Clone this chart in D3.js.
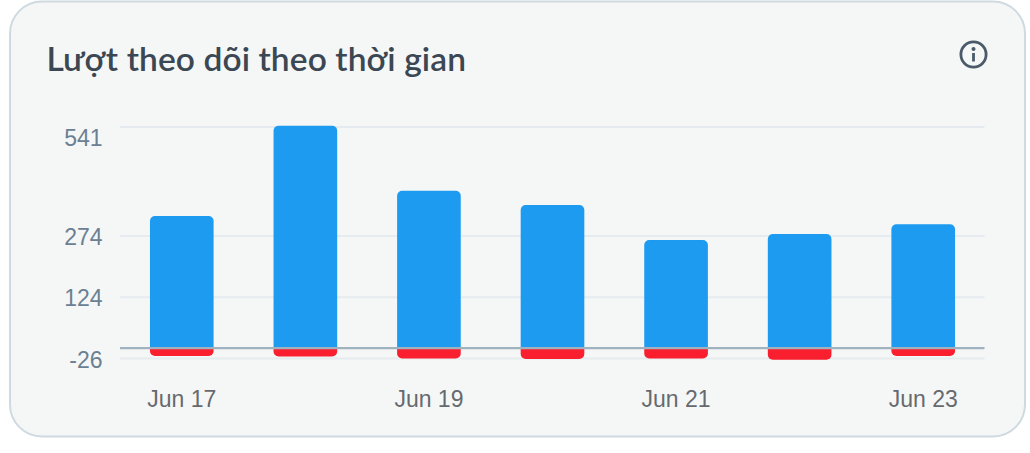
<!DOCTYPE html>
<html>
<head>
<meta charset="utf-8">
<script src="https://cdn.jsdelivr.net/npm/d3@7/dist/d3.min.js"></script>
<style>
  html, body { margin: 0; padding: 0; background: #fff; }
  svg { display: block; }
</style>
</head>
<body>
<svg id="chart" width="1030" height="453"></svg>
<script>
// Daily follower gains and losses
const days = ["Jun 17", "Jun 18", "Jun 19", "Jun 20", "Jun 21", "Jun 22", "Jun 23"];
const gained = [323, 544, 385, 350, 264, 279, 303];
const lost = [-20, -21, -26, -27, -26, -29, -20];
const yTicks = [541, 274, 124, -26];
const xLabels = ["Jun 17", "Jun 19", "Jun 21", "Jun 23"];
const titleText = "Lượt theo dõi theo thời gian";

const svg = d3.select("#chart");

// Card
svg.append("rect")
  .attr("x", 10).attr("y", 1.5)
  .attr("width", 1015).attr("height", 435)
  .attr("rx", 32).attr("ry", 32)
  .attr("fill", "#f5f7f7")
  .attr("stroke", "#cfd9e0")
  .attr("stroke-width", 2);

svg.append("text")
  .attr("x", 46.5).attr("y", 71)
  .attr("font-family", "Lato")
  .attr("font-weight", 600)
  .attr("font-size", 33.5)
  .attr("letter-spacing", 0.1)
  .attr("fill", "#3b4753")
  .text(titleText);

// Info icon
const info = svg.append("g").attr("transform", "translate(973.5,54.5)");
info.append("circle").attr("r", 12.6).attr("fill", "none").attr("stroke", "#4a5a68").attr("stroke-width", 2.8);
info.append("circle").attr("cy", -5.5).attr("r", 2).attr("fill", "#4a5a68");
info.append("rect").attr("x", -1.4).attr("y", -1.5).attr("width", 2.8).attr("height", 8.5).attr("fill", "#4a5a68");

// Scales
const x = d3.scaleBand().domain(days).range([120, 985]).paddingInner(0.485).paddingOuter(0.2425);
const y = d3.scaleLinear().domain([-26, 541]).range([358.5, 127]);

// Gridlines
svg.append("g").selectAll("line").data(yTicks).join("line")
  .attr("x1", 120).attr("x2", 984.5)
  .attr("y1", d => y(d)).attr("y2", d => y(d))
  .attr("stroke", "#e5ebee").attr("stroke-width", 2);

// A bar with its two outer corners rounded, on the side away from the baseline
function barPath(d) {
  const x0 = x(d.day), w = x.bandwidth(), y0 = y(0), y1 = y(d.value);
  const r = Math.min(5, Math.abs(y1 - y0));
  const s = y1 < y0 ? 1 : -1;
  const sweep = s === 1 ? 1 : 0;
  return `M${x0},${y0}V${y1 + s * r}A${r},${r} 0 0 ${sweep} ${x0 + r},${y1}` +
    `H${x0 + w - r}A${r},${r} 0 0 ${sweep} ${x0 + w},${y1 + s * r}V${y0}Z`;
}

svg.append("g").selectAll("path").data(days.map((day, i) => ({ day, value: gained[i] }))).join("path")
  .attr("d", barPath).attr("fill", "#1d9bf0");
svg.append("g").selectAll("path").data(days.map((day, i) => ({ day, value: lost[i] }))).join("path")
  .attr("d", barPath).attr("fill", "#f91f2e");

// Zero baseline
svg.append("line")
  .attr("x1", 120).attr("x2", 984.5)
  .attr("y1", y(0) + 0.3).attr("y2", y(0) + 0.3)
  .attr("stroke", "#a0b2c0").attr("stroke-width", 2.2);

// Value labels; the top one hangs below its gridline to stay clear of the card header
svg.append("g").selectAll("text").data(yTicks).join("text")
  .attr("x", 102.5)
  .attr("y", (d, i) => y(d) + (i === 0 ? 19 : 9))
  .attr("text-anchor", "end")
  .attr("font-family", "Liberation Sans")
  .attr("font-size", 23)
  .attr("fill", "#6b8092")
  .text(d => d);

// Date labels
svg.append("g").selectAll("text").data(xLabels).join("text")
  .attr("x", d => x(d) + x.bandwidth() / 2)
  .attr("y", 407)
  .attr("text-anchor", "middle")
  .attr("font-family", "Liberation Sans")
  .attr("font-size", 23)
  .attr("fill", "#666a6e")
  .text(d => d);
</script>
</body>
</html>
